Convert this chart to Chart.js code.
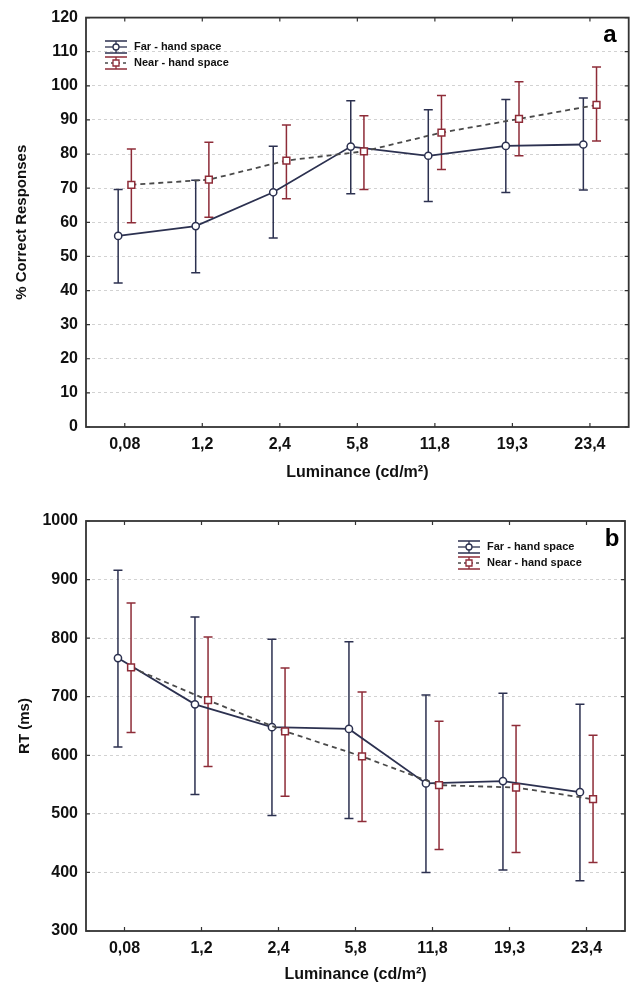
<!DOCTYPE html>
<html>
<head>
<meta charset="utf-8">
<script src="https://cdn.jsdelivr.net/npm/chart.js@4.4.1/dist/chart.umd.min.js"></script>
<style>
    html, body { margin: 0; padding: 0; background: #fff; }
    .panel { position: absolute; left: 0; }
    #panelA { top: 0; }
    #panelB { top: 490px; }
</style>
</head>
<body>
<div class="panel" id="panelA"><canvas id="chartA" width="635" height="490"></canvas></div>
<div class="panel" id="panelB"><canvas id="chartB" width="635" height="494"></canvas></div>
<script>
// Luminance levels (category labels)
const categories = ['0,08', '1,2', '2,4', '5,8', '11,8', '19,3', '23,4'];

// Panel a: % correct responses
const accFarMean  = [56.0, 58.9, 68.8, 82.2, 79.5, 82.4, 82.8];
const accFarLow   = [42.2, 45.2, 55.4, 68.4, 66.1, 68.7, 69.5];
const accFarHigh  = [69.6, 72.3, 82.3, 95.6, 93.0, 96.0, 96.4];
const accNearMean = [71.0, 72.5, 78.1, 80.8, 86.3, 90.3, 94.4];
const accNearLow  = [59.9, 61.5, 66.9, 69.6, 75.5, 79.5, 83.8];
const accNearHigh = [81.5, 83.5, 88.5, 91.2, 97.2, 101.2, 105.5];

// Panel b: reaction times (ms)
const rtFarMean  = [766, 687, 648, 645, 552, 556, 537];
const rtFarLow   = [614, 533, 497, 492, 400, 404, 386];
const rtFarHigh  = [916, 836, 798, 794, 703, 706, 687];
const rtNearMean = [750, 694, 641, 598, 549, 545, 525];
const rtNearLow  = [639, 581, 530, 487, 439, 434, 417];
const rtNearHigh = [860, 802, 749, 708, 658, 651, 634];

const seriesNames = ['Far - hand space', 'Near - hand space'];

const FONT = '"Liberation Sans", Arial, sans-serif';
const FAR_COLOR = '#2c3150';
const NEAR_COLOR = '#8e2c38';
const NEAR_LINE = '#4a4a4a';
const SHIFT = 0.085; // side-by-side offset of the two series around each level

// Draws error bars, inner tick marks, the frame, legend and panel letter
const statFramePlugin = {
    id: 'statFrame',
    beforeDatasetsDraw(chart) {
        const { ctx, scales: { x, y } } = chart;
        ctx.save();
        chart.data.datasets.forEach(ds => {
            ctx.strokeStyle = ds.errColor;
            ctx.lineWidth = 1.5;
            ctx.setLineDash([]);
            ds.data.forEach((p, i) => {
                const px = x.getPixelForValue(p.x);
                const lo = y.getPixelForValue(ds.errLow[i]);
                const hi = y.getPixelForValue(ds.errHigh[i]);
                ctx.beginPath();
                ctx.moveTo(px, lo); ctx.lineTo(px, hi);
                ctx.moveTo(px - 4.5, lo); ctx.lineTo(px + 4.5, lo);
                ctx.moveTo(px - 4.5, hi); ctx.lineTo(px + 4.5, hi);
                ctx.stroke();
            });
        });
        ctx.restore();
    },
    afterDraw(chart, args, opts) {
        const { ctx, chartArea: a, scales: { x, y } } = chart;
        ctx.save();
        ctx.strokeStyle = '#333';
        ctx.lineWidth = 1.2;
        ctx.setLineDash([]);
        // inner ticks
        ctx.beginPath();
        y.ticks.forEach(t => {
            const py = y.getPixelForValue(t.value);
            ctx.moveTo(a.left, py); ctx.lineTo(a.left + 4, py);
            ctx.moveTo(a.right, py); ctx.lineTo(a.right - 4, py);
        });
        x.ticks.forEach(t => {
            const px = x.getPixelForValue(t.value);
            ctx.moveTo(px, a.bottom); ctx.lineTo(px, a.bottom - 4);
            ctx.moveTo(px, a.top); ctx.lineTo(px, a.top + 4);
        });
        ctx.stroke();
        // frame
        ctx.lineWidth = 1.8;
        ctx.strokeRect(a.left, a.top, a.right - a.left, a.bottom - a.top);

        // legend
        const lx = opts.legendX, ly = opts.legendY;
        seriesNames.forEach((name, i) => {
            const cy = ly + i * 16;
            const col = i === 0 ? FAR_COLOR : NEAR_COLOR;
            ctx.strokeStyle = col;
            ctx.lineWidth = 1.3;
            ctx.setLineDash([]);
            ctx.beginPath();
            ctx.moveTo(lx, cy - 6); ctx.lineTo(lx + 22, cy - 6);
            ctx.moveTo(lx, cy + 6); ctx.lineTo(lx + 22, cy + 6);
            ctx.moveTo(lx + 11, cy - 6); ctx.lineTo(lx + 11, cy + 6);
            ctx.stroke();
            ctx.strokeStyle = i === 0 ? FAR_COLOR : NEAR_LINE;
            ctx.setLineDash(i === 0 ? [] : [3, 3]);
            ctx.beginPath();
            ctx.moveTo(lx, cy); ctx.lineTo(lx + 22, cy);
            ctx.stroke();
            ctx.setLineDash([]);
            ctx.fillStyle = '#fff';
            ctx.strokeStyle = col;
            ctx.beginPath();
            if (i === 0) ctx.arc(lx + 11, cy, 3, 0, Math.PI * 2);
            else ctx.rect(lx + 8, cy - 3, 6, 6);
            ctx.fill(); ctx.stroke();
            ctx.fillStyle = '#111';
            ctx.font = 'bold 11px ' + FONT;
            ctx.textAlign = 'left';
            ctx.textBaseline = 'middle';
            ctx.fillText(name, lx + 29, cy);
        });

        // panel letter
        ctx.fillStyle = '#000';
        ctx.font = 'bold 24px ' + FONT;
        ctx.textAlign = 'center';
        ctx.textBaseline = 'middle';
        ctx.fillText(opts.letter, opts.letterX, opts.letterY);
        ctx.restore();
    }
};

const buildSeries = (mean, low, high, isFar) => ({
    label: isFar ? seriesNames[0] : seriesNames[1],
    data: mean.map((v, i) => ({ x: i + (isFar ? -SHIFT : SHIFT), y: v })),
    errLow: low,
    errHigh: high,
    errColor: isFar ? FAR_COLOR : NEAR_COLOR,
    borderColor: isFar ? FAR_COLOR : NEAR_LINE,
    borderWidth: 1.8,
    borderDash: isFar ? [] : [5, 4],
    pointStyle: isFar ? 'circle' : 'rect',
    pointRadius: isFar ? 3.6 : 4.8,
    pointBorderWidth: 1.5,
    pointBackgroundColor: '#fff',
    pointBorderColor: isFar ? FAR_COLOR : NEAR_COLOR,
    tension: 0,
    fill: false
});

const makeChart = (canvasId, cfg) => {
    const ctx = document.getElementById(canvasId).getContext('2d');
    return new Chart(ctx, {
        type: 'line',
        data: { datasets: cfg.datasets },
        plugins: [statFramePlugin],
        options: {
            responsive: false,
            animation: false,
            devicePixelRatio: 1,
            layout: { padding: cfg.padding },
            plugins: {
                legend: { display: false },
                tooltip: { enabled: false },
                statFrame: cfg.frame
            },
            scales: {
                x: {
                    type: 'linear',
                    min: -0.5,
                    max: 6.5,
                    afterBuildTicks: s => { s.ticks = categories.map((c, i) => ({ value: i })); },
                    afterFit: s => { s.height = cfg.xHeight; },
                    grid: { display: false, drawTicks: false },
                    border: { display: false },
                    ticks: {
                        callback: v => categories[v],
                        font: { family: FONT, size: 16, weight: 'bold' },
                        color: '#111',
                        padding: cfg.xTickPad,
                        maxRotation: 0,
                        autoSkip: false
                    },
                    title: {
                        display: true,
                        text: 'Luminance (cd/m²)',
                        font: { family: FONT, size: 16, weight: 'bold' },
                        color: '#111',
                        padding: { top: 0, bottom: cfg.xTitlePad }
                    }
                },
                y: {
                    min: cfg.yMin,
                    max: cfg.yMax,
                    afterFit: s => { s.width = 86; },
                    grid: {
                        drawTicks: false,
                        lineWidth: 1,
                        color: c => (c.tick.value === cfg.yMin || c.tick.value === cfg.yMax) ? 'rgba(0,0,0,0)' : '#d2d2d2'
                    },
                    border: { display: false, dash: [3, 3] },
                    ticks: {
                        stepSize: cfg.yStep,
                        callback: v => String(v),
                        font: { family: FONT, size: 16, weight: 'bold' },
                        color: '#111',
                        padding: 8
                    },
                    title: {
                        display: true,
                        text: cfg.yTitle,
                        font: { family: FONT, size: cfg.yTitleSize, weight: 'bold' },
                        color: '#111',
                        padding: { top: cfg.yTitlePad, bottom: 0 }
                    }
                }
            }
        }
    });
};

makeChart('chartA', {
    datasets: [
        buildSeries(accNearMean, accNearLow, accNearHigh, false),
        buildSeries(accFarMean, accFarLow, accFarHigh, true)
    ],
    padding: { top: 16, right: 3, left: 0, bottom: 0 },
    xHeight: 63,
    xTickPad: 8,
    xTitlePad: 8,
    yMin: 0, yMax: 120, yStep: 10,
    yTitle: '% Correct Responses',
    yTitleSize: 15,
    yTitlePad: 13,
    frame: { legendX: 105, legendY: 47, letter: 'a', letterX: 610, letterY: 35 }
});

makeChart('chartB', {
    datasets: [
        buildSeries(rtNearMean, rtNearLow, rtNearHigh, false),
        buildSeries(rtFarMean, rtFarLow, rtFarHigh, true)
    ],
    padding: { top: 31, right: 10, left: 0, bottom: 0 },
    xHeight: 53,
    xTickPad: 8,
    xTitlePad: 0,
    yMin: 300, yMax: 1000, yStep: 100,
    yTitle: 'RT (ms)',
    yTitleSize: 15,
    yTitlePad: 16,
    frame: { legendX: 458, legendY: 547 - 490, letter: 'b', letterX: 612, letterY: 539 - 490 }
});
</script>
</body>
</html>
